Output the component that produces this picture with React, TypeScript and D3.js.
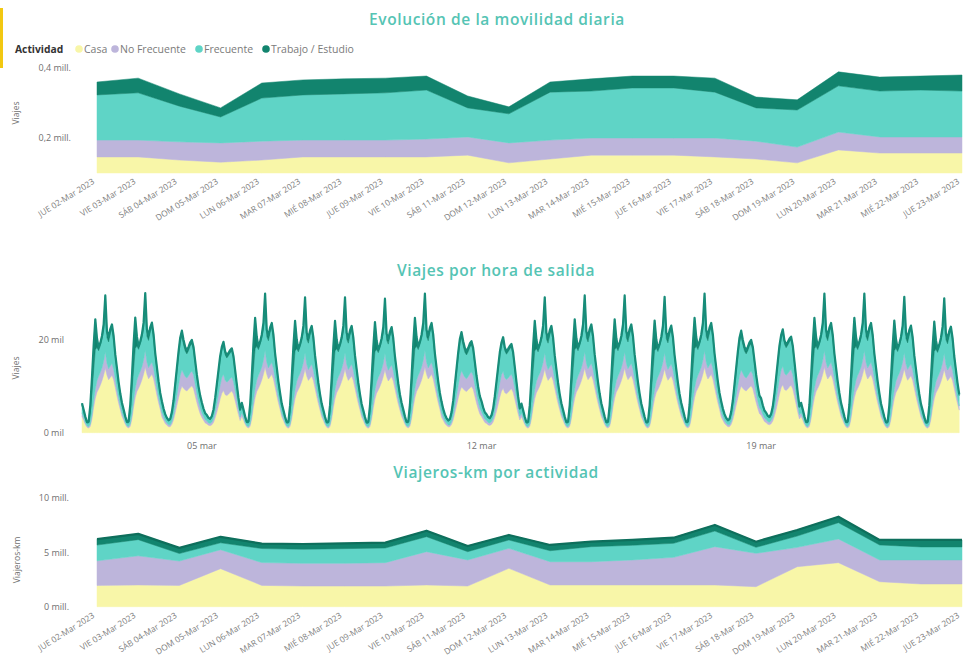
import React from 'react';
import * as d3 from 'd3';

// ---------- shared ----------
const SERIES = ['Casa', 'No Frecuente', 'Frecuente', 'Trabajo / Estudio'];
const COLORS = ['#f8f6a8', '#bdb5db', '#5fd4c6', '#12846e'];

const DAY_LABELS = [
  'JUE 02-Mar 2023', 'VIE 03-Mar 2023', 'SÁB 04-Mar 2023', 'DOM 05-Mar 2023', 'LUN 06-Mar 2023',
  'MAR 07-Mar 2023', 'MIÉ 08-Mar 2023', 'JUE 09-Mar 2023', 'VIE 10-Mar 2023', 'SÁB 11-Mar 2023',
  'DOM 12-Mar 2023', 'LUN 13-Mar 2023', 'MAR 14-Mar 2023', 'MIÉ 15-Mar 2023', 'JUE 16-Mar 2023',
  'VIE 17-Mar 2023', 'SÁB 18-Mar 2023', 'DOM 19-Mar 2023', 'LUN 20-Mar 2023', 'MAR 21-Mar 2023',
  'MIÉ 22-Mar 2023', 'JUE 23-Mar 2023',
];

// ---------- chart 1: daily trips (thousands) ----------
const DAILY_CASA = [146, 146, 137, 131, 137, 146, 146, 146, 146, 151, 129, 140, 151, 151, 151, 146, 140, 129, 166, 157, 157, 157];
const DAILY_NOFREC = [48, 48, 52, 55, 54, 48, 48, 48, 51, 52, 57, 54, 49, 49, 49, 54, 51, 45, 51, 46, 46, 46];
const DAILY_FREC = [129, 135, 102, 74, 123, 129, 132, 135, 140, 83, 83, 137, 134, 143, 143, 131, 95, 106, 132, 131, 134, 131];
const DAILY_TRAB = [37, 42, 35, 26, 43, 43, 43, 42, 40, 34, 20, 29, 35, 34, 34, 40, 31, 29, 40, 40, 40, 46];
const DAILY_TICKS = [200, 400];
const DAILY_TICK_LABELS = ['0,2 mill.', '0,4 mill.'];

// ---------- chart 2: hourly trips (thousands) ----------
const WD_CASA = [3.5, 2.7, 1.8, 1.2, 1.0, 1.4, 3.0, 5.5, 7.5, 8.8, 9.5, 10.3, 11.3, 12.5, 14.0, 12.5, 11.5, 12.0, 12.5, 11.5, 9.8, 8.0, 6.4, 5.0];
const WD_NOFREC = [0.8, 0.6, 0.4, 0.3, 0.3, 0.5, 1.0, 1.5, 2.0, 2.5, 2.8, 2.8, 2.8, 3.0, 3.6, 2.6, 2.4, 2.5, 2.6, 2.3, 1.9, 1.5, 1.2, 0.9];
const WD_FREC = [1.7, 1.3, 1.0, 0.6, 0.8, 2.4, 5.0, 6.5, 8.5, 7.2, 5.5, 5.8, 6.2, 6.7, 9.0, 5.5, 5.8, 7.0, 7.5, 6.3, 4.9, 4.1, 3.1, 2.3];
const WD_TRAB = [0.4, 0.4, 0.3, 0.2, 0.3, 1.7, 3.0, 5.5, 6.6, 2.0, 0.7, 0.6, 0.7, 1.3, 3.2, 1.4, 1.1, 1.0, 0.9, 0.9, 0.4, 0.4, 0.3, 0.3];
const SAT_CASA = [3.4, 2.7, 2.0, 1.6, 1.3, 1.3, 1.8, 2.8, 4.3, 5.9, 7.5, 9.0, 10.0, 9.6, 9.2, 9.0, 9.4, 9.8, 10.1, 9.5, 8.0, 6.5, 5.2, 4.1];
const SAT_NOFREC = [1.0, 0.8, 0.6, 0.5, 0.4, 0.4, 0.6, 1.0, 1.6, 2.2, 2.8, 3.3, 3.6, 3.2, 2.9, 2.8, 2.9, 3.1, 3.2, 3.0, 2.5, 2.0, 1.6, 1.3];
const SAT_FREC = [2.1, 1.5, 1.2, 0.9, 0.8, 1.0, 1.6, 2.6, 3.8, 5.0, 6.3, 7.2, 7.2, 6.2, 5.5, 5.2, 5.4, 5.8, 5.9, 5.3, 4.5, 3.6, 2.9, 2.3];
const SAT_TRAB = [0.3, 0.2, 0.2, 0.2, 0.2, 0.3, 0.5, 0.6, 0.8, 0.9, 0.9, 1.0, 1.2, 1.0, 0.9, 0.8, 0.8, 0.8, 0.8, 0.7, 0.5, 0.4, 0.3, 0.3];
const SUN_CASA = [3.3, 2.7, 2.1, 1.9, 1.6, 1.5, 1.7, 2.2, 3.2, 4.4, 5.8, 7.3, 8.5, 9.1, 8.2, 8.0, 8.3, 8.7, 9.0, 8.3, 6.9, 5.4, 3.9, 2.6];
const SUN_NOFREC = [1.0, 0.8, 0.7, 0.6, 0.5, 0.5, 0.6, 0.8, 1.3, 1.9, 2.5, 3.0, 3.4, 3.5, 3.1, 2.9, 2.9, 3.0, 3.0, 2.7, 2.2, 1.7, 1.2, 0.8];
const SUN_FREC = [2.0, 1.5, 1.2, 1.1, 0.9, 0.8, 1.0, 1.6, 2.6, 3.7, 4.6, 5.5, 5.9, 6.2, 5.5, 5.2, 5.4, 5.5, 5.6, 5.0, 4.0, 3.1, 2.2, 1.4];
const SUN_TRAB = [0.2, 0.2, 0.2, 0.2, 0.2, 0.2, 0.3, 0.4, 0.4, 0.5, 0.6, 0.7, 0.7, 0.8, 0.7, 0.6, 0.6, 0.6, 0.6, 0.5, 0.4, 0.3, 0.2, 0.2];
const PROFILE_PEAK = { WD: 29.8, SAT: 22.0, SUN: 19.6 };
const DAY_TYPE = ['WD', 'WD', 'SAT', 'SUN', 'WD', 'WD', 'WD', 'WD', 'WD', 'SAT', 'SUN', 'WD', 'WD', 'WD', 'WD', 'WD', 'SAT', 'SUN', 'WD', 'WD', 'WD', 'WD'];
const DAY_PEAK = [29.6, 30.1, 22.0, 19.6, 30.0, 29.2, 29.2, 28.9, 30.0, 21.7, 20.6, 29.2, 29.6, 29.6, 29.3, 30.0, 22.0, 22.3, 30.0, 30.0, 29.3, 29.0];
const HOURLY_TICKS = [0, 20];
const HOURLY_TICK_LABELS = ['0 mil', '20 mil'];
const HOURLY_DATE_TICKS = ['05 mar', '12 mar', '19 mar'];
const HOURLY_DATE_TICK_DAYS = [5, 12, 19];

// ---------- chart 3: traveller-km (millions) ----------
const KM_CASA = [1.96, 2.0, 1.96, 3.5, 1.96, 1.9, 1.9, 1.9, 2.0, 1.9, 3.53, 2.0, 2.0, 2.0, 2.0, 2.0, 1.84, 3.68, 4.05, 2.3, 2.09, 2.09];
const KM_NOFREC = [2.26, 2.68, 2.24, 1.74, 2.1, 2.09, 2.09, 2.15, 3.06, 2.4, 1.84, 2.14, 2.14, 2.3, 2.54, 3.52, 3.07, 1.78, 2.18, 2.0, 2.21, 2.21];
const KM_FREC = [1.45, 1.49, 0.69, 0.64, 1.29, 1.29, 1.35, 1.35, 1.38, 0.76, 0.77, 1.01, 1.38, 1.35, 1.29, 1.44, 0.55, 1.04, 1.5, 1.38, 1.2, 1.2];
const KM_TRAB = [0.55, 0.53, 0.52, 0.55, 0.46, 0.49, 0.49, 0.49, 0.55, 0.52, 0.46, 0.53, 0.46, 0.49, 0.52, 0.56, 0.52, 0.56, 0.55, 0.46, 0.64, 0.64];
const KM_TICKS = [0, 5, 10];
const KM_TICK_LABELS = ['0 mill.', '5 mill.', '10 mill.'];

const FONT = "'Segoe UI', 'Open Sans', 'Noto Sans', sans-serif";
const TITLE_COLOR = '#55c4b4';
const TEXT = '#6f6f6f';

function buildRows(a: number[], b: number[], c: number[], d: number[]) {
  return a.map((_, i) => ({ 0: a[i], 1: b[i], 2: c[i], 3: d[i] } as any));
}

function buildHourly() {
  const prof: any = {
    WD: [WD_CASA, WD_NOFREC, WD_FREC, WD_TRAB],
    SAT: [SAT_CASA, SAT_NOFREC, SAT_FREC, SAT_TRAB],
    SUN: [SUN_CASA, SUN_NOFREC, SUN_FREC, SUN_TRAB],
  };
  const rows: any[] = [];
  DAY_TYPE.forEach((t, di) => {
    const p = prof[t];
    const k = DAY_PEAK[di] / (PROFILE_PEAK as any)[t];
    for (let h = 0; h < 24; h++) {
      rows.push({
        date: new Date(2023, 2, 2 + di, h),
        0: p[0][h] * k, 1: p[1][h] * k, 2: p[2][h] * k, 3: p[3][h] * k,
      });
    }
  });
  return rows;
}

const stacker = d3.stack<any>().keys(['0', '1', '2', '3']);

function Title({ x, y, text }: { x: number; y: number; text: string }) {
  return (
    <text x={x} y={y} textAnchor="middle" fontFamily={FONT} fontSize={15.5} fontWeight={600}
      fill={TITLE_COLOR} letterSpacing={0.6}>{text}</text>
  );
}

function YLabel({ x, y, text }: { x: number; y: number; text: string }) {
  return (
    <text transform={`translate(${x},${y}) rotate(-90)`} textAnchor="middle" fontFamily={FONT}
      fontSize={8.5} fill={TEXT}>{text}</text>
  );
}

function DayAxis({ x, y, rot }: { x: d3.ScaleLinear<number, number>; y: number; rot: number }) {
  return (
    <g>
      {DAY_LABELS.map((l, i) => (
        <text key={l} transform={`translate(${x(i) - 5},${y}) rotate(${rot})`} textAnchor="end"
          dy="0.71em" fontFamily={FONT} fontSize={8.4} fill="#808080">{l}</text>
      ))}
    </g>
  );
}

export default function App() {
  // chart 1
  const x1 = d3.scaleLinear().domain([0, 21]).range([97, 962]);
  const y1 = d3.scaleLinear().domain([100, 400]).range([173, 68]).clamp(true);
  const s1 = stacker(buildRows(DAILY_CASA, DAILY_NOFREC, DAILY_FREC, DAILY_TRAB));
  const a1 = d3.area<any>().x((_, i) => x1(i)).y0(d => y1(d[0])).y1(d => y1(d[1]));

  // chart 2
  const hourly = buildHourly();
  const x2 = d3.scaleTime().domain([new Date(2023, 2, 2), new Date(2023, 2, 24)]).range([82, 82 + 22 * 39.95]);
  const y2 = d3.scaleLinear().domain([0, 30]).range([432.7, 293.6]);
  const s2 = stacker(hourly);
  const a2 = d3.area<any>().x(d => x2(d.data.date)).y0(d => y2(d[0])).y1(d => y2(d[1]));
  const l2 = d3.line<any>().x(d => x2(d.data.date)).y(d => y2(d[1]));

  // chart 3
  const x3 = d3.scaleLinear().domain([0, 21]).range([97, 962]);
  const y3 = d3.scaleLinear().domain([0, 10]).range([606.7, 498]);
  const s3 = stacker(buildRows(KM_CASA, KM_NOFREC, KM_FREC, KM_TRAB));
  const a3 = d3.area<any>().x((_, i) => x3(i)).y0(d => y3(d[0])).y1(d => y3(d[1]));
  const l3 = d3.line<any>().x((_, i) => x3(i)).y(d => y3(d[1]));

  const legend = [
    { x: 79, label: SERIES[0], c: COLORS[0] },
    { x: 115, label: SERIES[1], c: COLORS[1] },
    { x: 199, label: SERIES[2], c: COLORS[2] },
    { x: 266, label: SERIES[3], c: COLORS[3] },
  ];

  return (
    <div style={{ position: 'absolute', left: 0, top: 0 }}>
      <svg width={968} height={672} style={{ display: 'block', background: '#fff' }}>
        <rect x={0} y={8} width={3} height={60} fill="#f2c811" />

        {/* Chart 1 */}
        <Title x={497} y={25} text="Evolución de la movilidad diaria" />
        <text x={15} y={52.5} fontFamily={FONT} fontSize={10.3} fontWeight={700} fill="#333">Actividad</text>
        {legend.map(l => (
          <g key={l.label}>
            <circle cx={l.x} cy={49} r={3.8} fill={l.c} />
            <text x={l.x + 5} y={52.5} fontFamily={FONT} fontSize={10.5} fill="#7a7a7a">{l.label}</text>
          </g>
        ))}
        {DAILY_TICKS.map((t, i) => (
          <text key={t} x={71} y={y1(t)} dy="0.35em" textAnchor="end" fontFamily={FONT} fontSize={9} fill={TEXT}>{DAILY_TICK_LABELS[i]}</text>
        ))}
        <YLabel x={19} y={113} text="Viajes" />
        {s1.map((s, i) => (
          <path key={i} d={a1(s as any) || ''} fill={COLORS[i]} stroke={COLORS[i]} strokeWidth={0.5} />
        ))}
        <DayAxis x={x1} y={178} rot={-32} />

        {/* Chart 2 */}
        <Title x={496} y={276} text="Viajes por hora de salida" />
        {HOURLY_TICKS.map((t, i) => (
          <text key={t} x={64} y={y2(t)} dy="0.35em" textAnchor="end" fontFamily={FONT} fontSize={9} fill={TEXT}>{HOURLY_TICK_LABELS[i]}</text>
        ))}
        <YLabel x={19} y={368} text="Viajes" />
        {s2.map((s, i) => (
          <path key={i} d={a2(s as any) || ''} fill={COLORS[i]} stroke={COLORS[i]} strokeWidth={0.5} />
        ))}
        <path d={l2(s2[3] as any) || ''} fill="none" stroke="#178c79" strokeWidth={2.2} strokeLinejoin="round" />
        {HOURLY_DATE_TICKS.map((t, i) => (
          <text key={t} x={x2(new Date(2023, 2, HOURLY_DATE_TICK_DAYS[i]))} y={449} textAnchor="middle"
            fontFamily={FONT} fontSize={9} fill={TEXT}>{t}</text>
        ))}

        {/* Chart 3 */}
        <Title x={496} y={478} text="Viajeros-km por actividad" />
        {KM_TICKS.map((t, i) => (
          <text key={t} x={69} y={y3(t)} dy="0.35em" textAnchor="end" fontFamily={FONT} fontSize={9} fill={TEXT}>{KM_TICK_LABELS[i]}</text>
        ))}
        <YLabel x={20} y={560} text="Viajeros-km" />
        {s3.map((s, i) => (
          <path key={i} d={a3(s as any) || ''} fill={COLORS[i]} stroke={COLORS[i]} strokeWidth={0.5} />
        ))}
        <path d={l3(s3[3] as any) || ''} fill="none" stroke="#0e6f5c" strokeWidth={2.2} strokeLinejoin="round" />
        <DayAxis x={x3} y={612} rot={-32} />
      </svg>
    </div>
  );
}
